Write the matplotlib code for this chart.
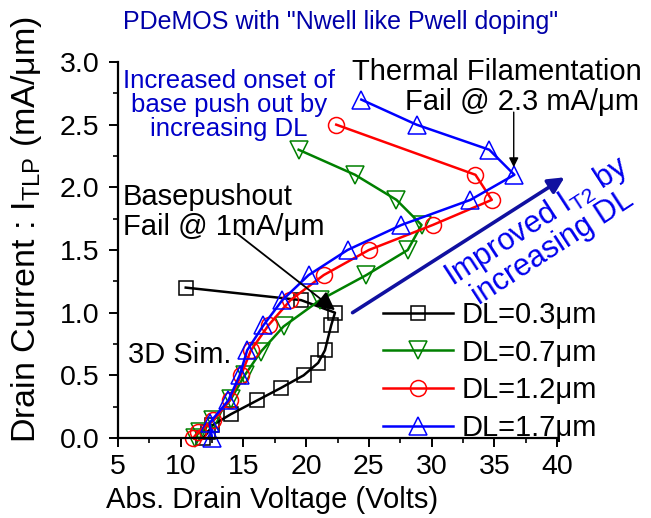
import matplotlib
matplotlib.use("Agg")
import matplotlib.pyplot as plt
from matplotlib.ticker import MultipleLocator

plt.rcParams['font.family'] = ['Liberation Sans', 'DejaVu Sans']
plt.rcParams['mathtext.default'] = 'regular'

# TLP I-V curves (drain voltage in V, drain current in mA/um)
series_labels = ["DL=0.3\u03bcm", "DL=0.7\u03bcm", "DL=1.2\u03bcm", "DL=1.7\u03bcm"]

dl03_v = [11.8, 12.2, 12.5, 14.0, 16.1, 18.0, 19.8, 20.96, 21.5, 22.0, 22.3, 19.6, 10.4]
dl03_i = [0.00, 0.05, 0.10, 0.19, 0.30, 0.40, 0.50, 0.60, 0.70, 0.90, 1.00, 1.10, 1.20]

dl07_v = [11.1, 11.5, 12.6, 14.0, 15.1, 16.4, 18.2, 21.1, 24.8, 28.1, 29.2, 27.2, 23.9, 19.4]
dl07_i = [0.00, 0.05, 0.14, 0.31, 0.50, 0.69, 0.89, 1.10, 1.30, 1.50, 1.70, 1.90, 2.10, 2.30]

dl12_v = [11.0, 11.4, 12.6, 13.9, 14.8, 15.6, 17.0, 18.75, 21.4, 25.0, 30.1, 34.8, 33.5, 22.4]
dl12_i = [0.00, 0.05, 0.14, 0.30, 0.50, 0.70, 0.90, 1.10, 1.30, 1.50, 1.70, 1.90, 2.10, 2.50]

dl17_v = [12.5, 12.3, 13.8, 14.7, 15.3, 16.6, 18.1, 20.2, 23.3, 27.6, 33.1, 36.6, 34.6, 28.8, 24.4]
dl17_i = [0.00, 0.12, 0.30, 0.50, 0.70, 0.90, 1.10, 1.30, 1.50, 1.70, 1.90, 2.10, 2.30, 2.50, 2.70]

W, H = 651, 518
fig = plt.figure(figsize=(W / 100, H / 100), dpi=100)
ax = fig.add_axes([118 / W, (H - 438) / H, 439 / W, 376 / H])


def fpos(x, y):
    return x / W, 1 - y / H


styles = [
    (dl03_v, dl03_i, 'black', 's', 10.5),
    (dl07_v, dl07_i, '#008000', 'v', 12.5),
    (dl12_v, dl12_i, '#ff0000', 'o', 11.5),
    (dl17_v, dl17_i, '#0000ff', '^', 12.5),
]
handles = []
for (v, i, c, m, ms), lab in zip(styles, series_labels):
    h, = ax.plot(v, i, color=c, lw=1.8, marker=m, ms=ms, mfc='none',
                 mec=c, mew=1.1, label=lab, clip_on=False)
    handles.append(h)

ax.set_xlim(5, 40)
ax.set_ylim(0, 3.0)
ax.xaxis.set_major_locator(MultipleLocator(5))
ax.xaxis.set_minor_locator(MultipleLocator(2.5))
ax.yaxis.set_major_locator(MultipleLocator(0.5))
ax.yaxis.set_minor_locator(MultipleLocator(0.25))
ax.yaxis.set_major_formatter(matplotlib.ticker.FormatStrFormatter('%.1f'))
for s in ('top', 'right'):
    ax.spines[s].set_visible(False)
for s in ('left', 'bottom'):
    ax.spines[s].set_linewidth(1.6)
ax.tick_params(which='major', direction='out', length=6.5, width=1.4,
               labelsize=20.5, pad=5)
ax.tick_params(which='minor', direction='out', length=3.5, width=1.2)
ax.tick_params(axis='y', which='major', pad=7)

fig.text(*fpos(272, 500), "Abs. Drain Voltage (Volts)", fontsize=21,
         ha='center', va='center')
fig.text(*fpos(27, 229), "Drain Current : I$_{TLP}$ (mA/\u03bcm)", fontsize=24.5,
         ha='center', va='center', rotation=90)

fig.text(*fpos(341, 22), 'PDeMOS with "Nwell like Pwell doping"', fontsize=18,
         color='#0000a8', ha='center', va='center')
fig.text(*fpos(229, 105), "Increased onset of\nbase push out by\nincreasing DL",
         fontsize=18.5, color='#0000c8', ha='center', va='center',
         linespacing=0.98)
fig.text(*fpos(497, 72), "Thermal Filamentation", fontsize=21,
         ha='center', va='center')
fig.text(*fpos(522, 102), "Fail @ 2.3 mA/\u03bcm", fontsize=21,
         ha='center', va='center')
fig.text(*fpos(123, 197), "Basepushout", fontsize=21, ha='left', va='center')
fig.text(*fpos(123, 227), "Fail @ 1mA/\u03bcm", fontsize=21, ha='left',
         va='center')
fig.text(*fpos(128, 355), "3D Sim.", fontsize=21, ha='left', va='center')

# arrows
ax.annotate("", xy=(22.3, 1.02), xytext=(14.5, 1.63),
            arrowprops=dict(arrowstyle='-|>', color='black', lw=1.3,
                            mutation_scale=28, shrinkA=0, shrinkB=0),
            annotation_clip=False)
ax.annotate("", xy=(36.55, 2.16), xytext=(36.55, 2.6),
            arrowprops=dict(arrowstyle='-|>', color='black', lw=1.0,
                            mutation_scale=14, shrinkA=0, shrinkB=0),
            annotation_clip=False)
ax.annotate("", xy=(40.6, 2.08), xytext=(23.7, 1.0),
            arrowprops=dict(arrowstyle='-|>', color='#1010a0', lw=2.6,
                            mutation_scale=24, shrinkA=0, shrinkB=0),
            annotation_clip=False)
ax.text(39.0, 1.63, "Improved I$_{T2}$ by\nincreasing DL", fontsize=22,
        color='#0000ee', rotation=33, rotation_mode='anchor',
        ha='center', va='center', linespacing=0.95, clip_on=False)

leg = ax.legend(handles=handles, loc='upper left',
                bbox_to_anchor=fpos(383, 301), bbox_transform=fig.transFigure,
                frameon=False, fontsize=21, numpoints=1, handlelength=2.4,
                handletextpad=0.3, labelspacing=0.33, borderpad=0,
                borderaxespad=0)

fig.savefig("out.png", dpi=100)
